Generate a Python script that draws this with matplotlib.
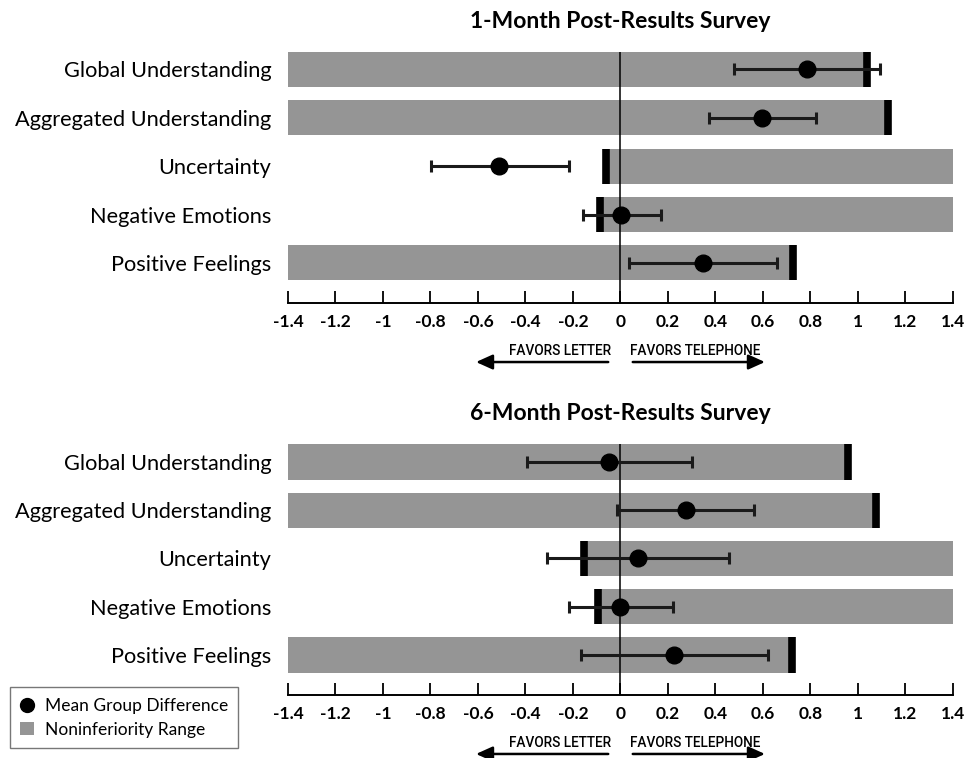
import matplotlib
matplotlib.use("Agg")
import matplotlib.pyplot as plt
from matplotlib.lines import Line2D
from matplotlib.patches import Patch
import numpy as np

plt.rcParams['font.family'] = ['Lato', 'DejaVu Sans']

categories = ["Global Understanding", "Aggregated Understanding", "Uncertainty",
              "Negative Emotions", "Positive Feelings"]
x_ticks = [-1.4, -1.2, -1.0, -0.8, -0.6, -0.4, -0.2, 0, 0.2, 0.4, 0.6, 0.8, 1.0, 1.2, 1.4]

# 1-month survey
m1_mean = [0.785, 0.596, -0.511, 0.004, 0.346]
m1_lo = [0.476, 0.372, -0.799, -0.159, 0.035]
m1_hi = [1.094, 0.822, -0.218, 0.170, 0.661]
m1_range_lo = [-1.4, -1.4, -0.061, -0.087, -1.4]
m1_range_hi = [1.038, 1.127, 1.4, 1.4, 0.725]
m1_bound = [1.038, 1.127, -0.061, -0.087, 0.725]

# 6-month survey
m6_mean = [-0.048, 0.274, 0.072, 0.0, 0.226]
m6_lo = [-0.394, -0.015, -0.309, -0.218, -0.167]
m6_hi = [0.303, 0.564, 0.455, 0.220, 0.620]
m6_range_lo = [-1.4, -1.4, -0.155, -0.094, -1.4]
m6_range_hi = [0.957, 1.075, 1.4, 1.4, 0.722]
m6_bound = [0.957, 1.075, -0.155, -0.094, 0.722]

BAR = '#959595'
H = 0.73


def draw_panel(ax, title, mean, lo, hi, rlo, rhi, bound):
    y = np.arange(len(categories))
    ax.barh(y, np.array(rhi) - np.array(rlo), left=rlo, height=H, color=BAR, zorder=1)
    ax.vlines(bound, y - H / 2, y + H / 2, color='black', lw=5.5, zorder=3)
    ax.set_xlim(-1.4, 1.4)
    ax.set_ylim(len(categories) - 1 + 0.83, -0.6)
    ax.vlines(0, -H / 2, len(categories) - 1 + 0.83, color='black', lw=1.1, zorder=2)
    mean = np.array(mean)
    err = [mean - np.array(lo), np.array(hi) - mean]
    ax.errorbar(mean, y, xerr=err, fmt='o', color='black', ecolor='#1a1a1a',
                markersize=12, elinewidth=2.2, capsize=4, capthick=2.2, zorder=4)
    for s in ['top', 'right', 'left']:
        ax.spines[s].set_visible(False)
    ax.spines['bottom'].set_linewidth(1.4)
    ax.set_xticks(x_ticks)
    ax.set_xticklabels([f"{v:g}" for v in x_ticks], fontsize=12.5, fontweight='bold')
    ax.tick_params(axis='x', direction='in', length=9, width=1.3, pad=8)
    ax.set_yticks(y)
    ax.set_yticklabels(categories, fontsize=15.7)
    ax.tick_params(axis='y', length=0, pad=12)
    ax.set_title(title, fontsize=16.5, fontweight='bold', pad=9)
    # direction arrows below the axis
    tr = ax.get_xaxis_transform()
    ay = -0.225
    style = dict(arrowstyle='-|>,head_length=1.0,head_width=0.45', color='black', lw=1.8)
    ax.annotate('', xy=(-0.62, ay), xytext=(-0.04, ay), xycoords=tr, textcoords=tr,
                arrowprops=style)
    ax.annotate('', xy=(0.62, ay), xytext=(0.04, ay), xycoords=tr, textcoords=tr,
                arrowprops=style)
    ax.text(-0.04, ay + 0.015, 'FAVORS LETTER', transform=tr, ha='right', va='bottom',
            fontsize=9.8, family='Roboto', fontweight='medium')
    ax.text(0.04, ay + 0.015, 'FAVORS TELEPHONE', transform=tr, ha='left', va='bottom',
            fontsize=9.8, family='Roboto', fontweight='medium')


fig = plt.figure(figsize=(9.68, 7.58), dpi=100)
ax1 = fig.add_axes([0.2975, 0.6003, 0.687, 0.3463])
ax2 = fig.add_axes([0.2975, 0.0831, 0.687, 0.3457])

draw_panel(ax1, "1-Month Post-Results Survey", m1_mean, m1_lo, m1_hi,
           m1_range_lo, m1_range_hi, m1_bound)
draw_panel(ax2, "6-Month Post-Results Survey", m6_mean, m6_lo, m6_hi,
           m6_range_lo, m6_range_hi, m6_bound)

handles = [Line2D([], [], marker='o', color='black', linestyle='none', markersize=10),
           Patch(facecolor=BAR, edgecolor='none')]
leg = fig.legend(handles, ["Mean Group Difference", "Noninferiority Range"],
                 loc='lower left', bbox_to_anchor=(0.0103, 0.0132), fontsize=12.5,
                 frameon=True, fancybox=False, edgecolor='#555555', handlelength=0.8,
                 handletextpad=0.6, borderpad=0.6, labelspacing=0.45, borderaxespad=0)
leg.get_frame().set_linewidth(1.0)

fig.savefig("out.png", dpi=100)
